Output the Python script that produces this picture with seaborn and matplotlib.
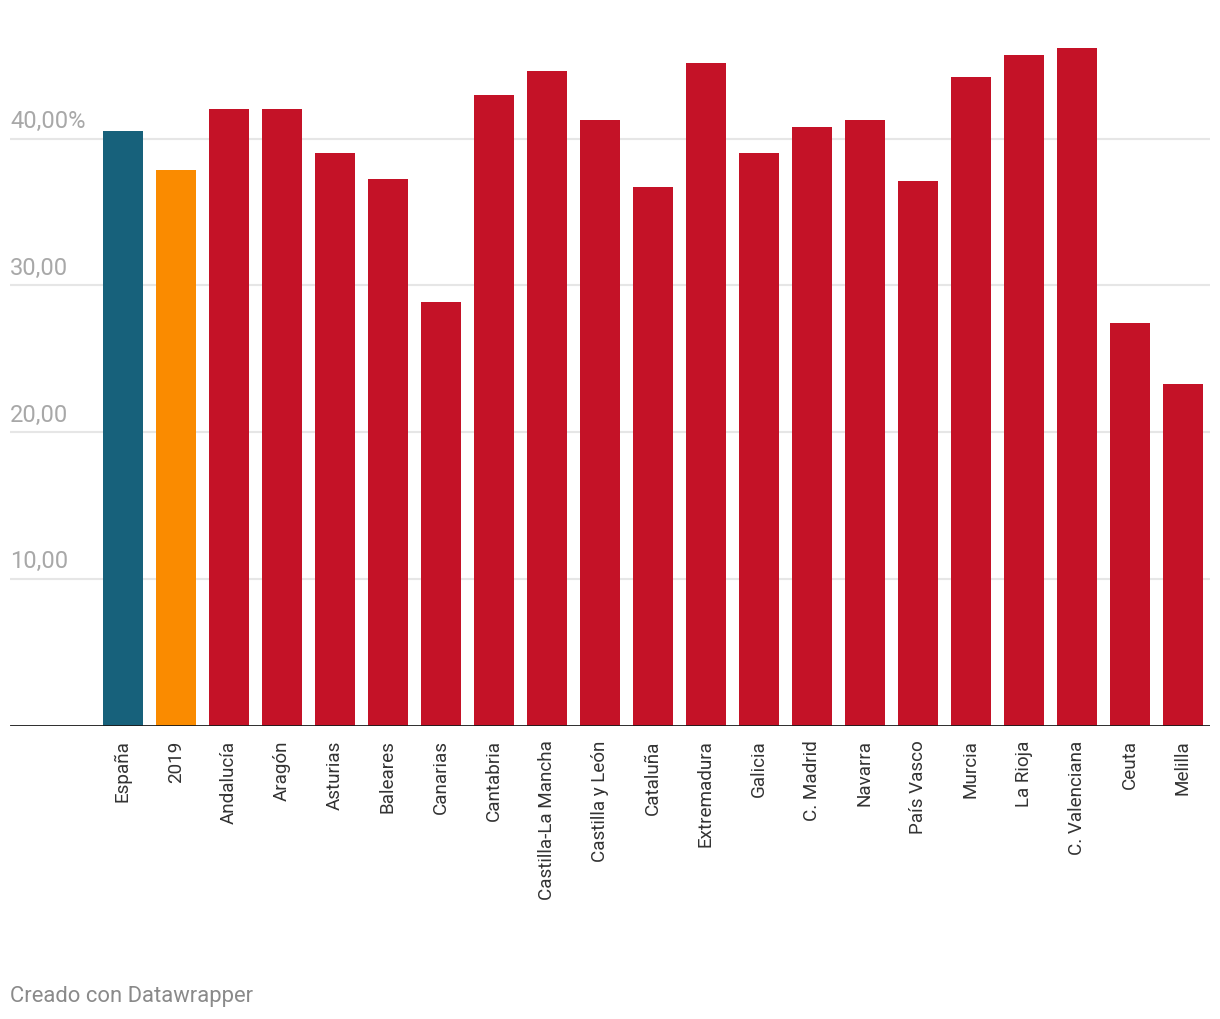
import matplotlib
matplotlib.use("Agg")
import matplotlib.pyplot as plt
import matplotlib.transforms as mtransforms
import seaborn as sns
import pandas as pd

categories = ["España", "2019", "Andalucía", "Aragón", "Asturias", "Baleares", "Canarias",
              "Cantabria", "Castilla-La Mancha", "Castilla y León", "Cataluña", "Extremadura",
              "Galicia", "C. Madrid", "Navarra", "País Vasco", "Murcia", "La Rioja",
              "C. Valenciana", "Ceuta", "Melilla"]
values = [40.5, 37.9, 42.05, 42.05, 39.0, 37.27, 28.87, 43.0, 44.64, 41.3, 36.72, 45.19,
          39.0, 40.82, 41.3, 37.13, 44.23, 45.73, 46.2, 27.44, 23.28]
y_ticks = [10, 20, 30, 40]
y_tick_labels = ["10,00", "20,00", "30,00", "40,00%"]

COL_ESP = "#17617b"
COL_2019 = "#fa8b00"
COL_REG = "#c41227"
palette = {c: COL_REG for c in categories}
palette["España"] = COL_ESP
palette["2019"] = COL_2019

df = pd.DataFrame({"cat": categories, "val": values})

sns.set_theme(style="white")
plt.rcParams["font.family"] = ["Roboto", "DejaVu Sans"]

fig = plt.figure(figsize=(12.2, 10.2), dpi=100)
W, H = 1220, 1020
base = 726.5
ax = fig.add_axes([10 / W, (H - base) / H, 1200 / W, (base - 30) / H])

sns.barplot(data=df, x="cat", y="val", hue="cat", palette=palette, legend=False,
            width=0.755, saturation=1, linewidth=0, edgecolor="none", ax=ax, zorder=3)

ax.set_xlim(-2.13, 20.51)
ax.set_ylim(0, (base - 30) / 14.67)

for t in y_ticks:
    ax.axhline(t, color="#e6e6e6", lw=1.5, zorder=1)
ax.axhline(0, color="#1a1a1a", lw=2, zorder=4)

trans = mtransforms.blended_transform_factory(ax.transAxes, ax.transData)
for t, lab in zip(y_ticks, y_tick_labels):
    ax.text(0.0, t + 0.45, lab, transform=trans, ha="left", va="bottom",
            fontsize=17, color="#a8a8a8", zorder=5)

ax.set_yticks([])
ax.set_xlabel("")
ax.set_ylabel("")
ax.tick_params(axis="x", length=0, pad=10)
ax.set_xticks(range(len(categories)))
ax.set_xticklabels(categories, rotation=90, fontsize=13.6, color="#333333", va="top", ha="center")
for s in ax.spines.values():
    s.set_visible(False)

fig.text(10 / W, 1 - 997 / H, "Creado con Datawrapper", ha="left", va="center",
         fontsize=15.8, color="#8a8a8a")

fig.savefig("out.png", dpi=100)
